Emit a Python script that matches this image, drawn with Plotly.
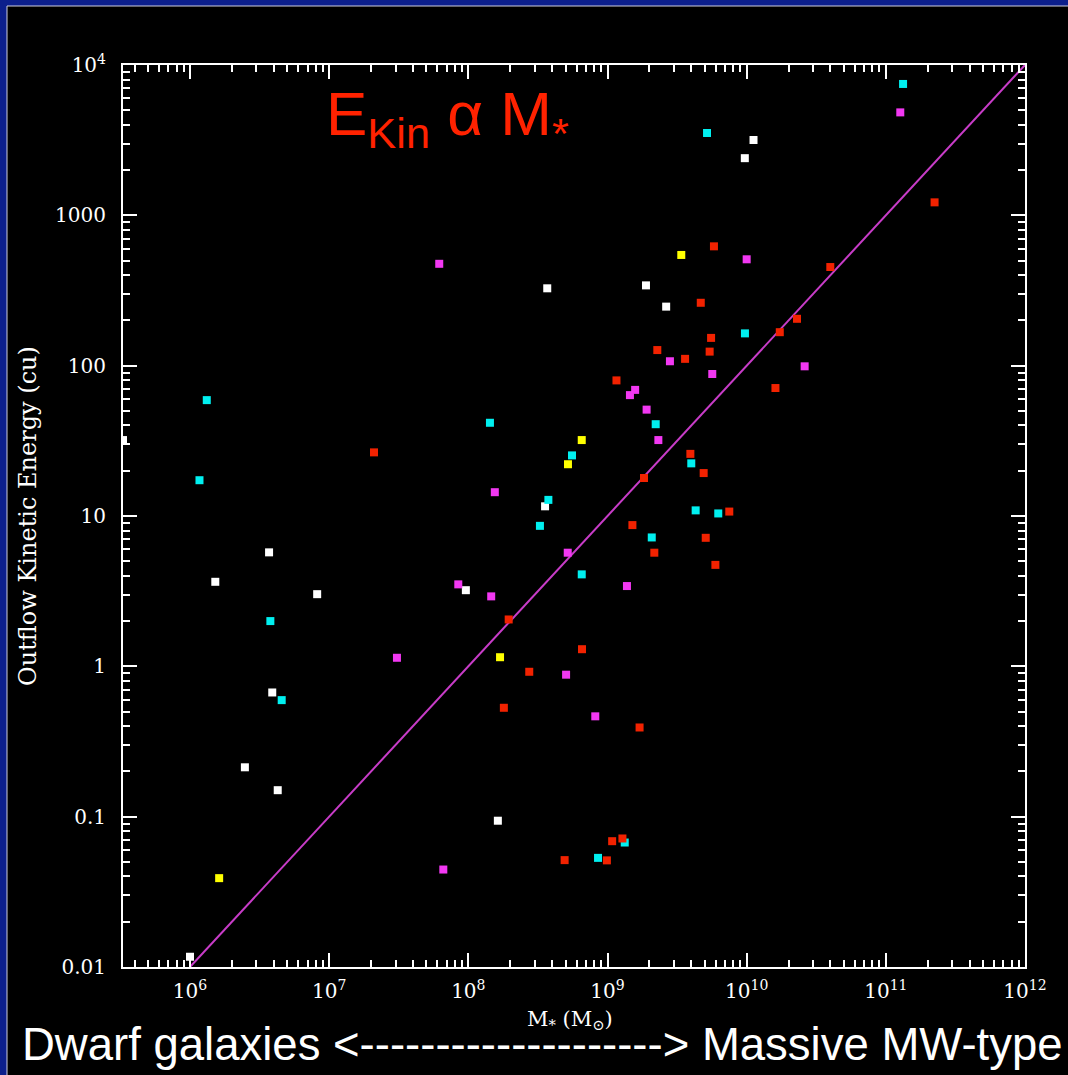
import plotly.graph_objects as go

# ---------------- data (stellar mass [Msun], outflow kinetic energy [cu]) ----------------
white_m = [3.3e5, 3.70e6, 1.52e6, 8.2e6, 9.6e7, 3.9e6, 2.48e6, 4.27e6, 1.0e6,
           3.69e8, 3.56e8, 1.89e9, 2.64e9, 1.12e10, 9.7e9, 1.63e8]
white_e = [32, 5.73, 3.65, 3.02, 3.21, 0.67, 0.213, 0.150, 0.0117,
           327, 11.6, 342, 247, 3170, 2400, 0.094]

cyan_m = [1.32e6, 1.17e6, 3.78e6, 4.56e6, 1.43e8, 5.56e8, 3.76e8, 3.27e8, 2.22e9, 2.08e9,
          4.0e9, 4.30e9, 6.25e9, 6.53e8, 9.72e9, 5.19e9, 1.33e11, 8.55e8, 1.33e9]
cyan_e = [59, 17.3, 2.0, 0.596, 41.7, 25.3, 12.8, 8.6, 40.8, 7.2,
          22.4, 10.9, 10.4, 4.09, 164, 3530, 7480, 0.0532, 0.0673]

yellow_m = [1.62e6, 1.69e8, 6.53e8, 5.2e8, 3.39e9]
yellow_e = [0.039, 1.15, 32, 22.1, 545]

magenta_m = [6.18e7, 1.55e8, 1.45e9, 1.58e9, 1.91e9, 2.32e9, 5.18e8, 1.0e10, 2.81e9, 5.66e9,
             2.61e10, 1.27e11, 3.07e7, 8.47e7, 1.46e8, 5.04e8, 8.17e8, 1.38e9, 6.61e7]
magenta_e = [476, 14.4, 63.7, 69, 51, 32, 5.7, 510, 107, 88,
             99, 4840, 1.14, 3.51, 2.92, 0.88, 0.465, 3.42, 0.0445]

red_m = [2.10e7, 1.16e9, 2.28e9, 1.83e9, 1.51e9, 2.17e9, 5.82e9, 4.68e9, 5.55e9, 5.42e9,
         3.61e9, 3.99e10, 2.30e10, 1.73e10, 1.61e10, 3.94e9, 4.91e9, 7.50e9, 5.08e9, 5.96e9,
         2.24e11, 1.95e8, 6.56e8, 2.74e8, 1.80e8, 1.70e9, 1.08e9, 1.28e9, 4.92e8, 9.9e8]
red_e = [26.5, 79.8, 127, 17.9, 8.7, 5.7, 622, 262, 153, 124,
         111, 453, 205, 167, 71, 25.9, 19.3, 10.7, 7.16, 4.73,
         1220, 2.05, 1.30, 0.92, 0.53, 0.392, 0.0687, 0.0716, 0.0514, 0.0512]

# E_kin proportional to M* relation
rel_m = [1e6, 1e12]
rel_e = [0.01, 1e4]

x_tickvals = [1e6, 1e7, 1e8, 1e9, 1e10, 1e11, 1e12]
x_ticktext = ["10<sup>6</sup>", "10<sup>7</sup>", "10<sup>8</sup>", "10<sup>9</sup>",
              "10<sup>10</sup>", "10<sup>11</sup>", "10<sup>12</sup>"]
y_tickvals = [0.01, 0.1, 1, 10, 100, 1000, 1e4]
y_ticktext = ["0.01", "0.1", "1", "10", "100", "1000", "10<sup>4</sup>"]

# ---------------- figure ----------------
W, H = 1068, 1075
ML, MR, MT, MB = 123, 43, 65, 108
PW, PH = W - ML - MR, H - MT - MB
FRAME_BLUE = "#0c1f8c"


def px_x(p):
    return (p - ML) / PW


def px_y(p):
    return (H - MB - p) / PH


fig = go.Figure()

fig.add_trace(go.Scatter(x=rel_m, y=rel_e, mode="lines",
                         line=dict(color="#c83cc8", width=2), hoverinfo="skip"))

series = [
    (white_m, white_e, "#ffffff"),
    (cyan_m, cyan_e, "#00f0f0"),
    (yellow_m, yellow_e, "#ffff00"),
    (magenta_m, magenta_e, "#f238f2"),
    (red_m, red_e, "#f22200"),
]
for xs, ys, col in series:
    fig.add_trace(go.Scatter(x=xs, y=ys, mode="markers",
                             marker=dict(symbol="square", size=8, color=col,
                                         line=dict(width=0)),
                             cliponaxis=True))

serif = "DejaVu Serif, Liberation Serif, serif"
sans = "Liberation Sans, Arial, Helvetica, sans-serif"

axis_common = dict(
    type="log", showgrid=False, zeroline=False,
    showline=True, linecolor="white", linewidth=2, mirror="allticks",
    ticks="inside", ticklen=14, tickwidth=2, tickcolor="white",
    tickmode="array",
    tickfont=dict(family=serif, size=20, color="white"),
    minor=dict(ticks="inside", ticklen=7, tickwidth=1.5, tickcolor="white",
               dtick="D1", showgrid=False),
)

fig.update_xaxes(range=[5.5186, 12], tickvals=x_tickvals, ticktext=x_ticktext,
                 ticklabelstandoff=5, **axis_common)
fig.update_yaxes(range=[-2, 4], tickvals=y_tickvals, ticktext=y_ticktext,
                 ticklabelstandoff=11, **axis_common)

fig.update_layout(
    width=W, height=H, autosize=False,
    margin=dict(l=ML, r=MR, t=MT, b=MB, pad=0),
    paper_bgcolor=FRAME_BLUE,
    plot_bgcolor="black",
    showlegend=False,
    shapes=[dict(type="rect", xref="paper", yref="paper", layer="below",
                 x0=px_x(7), x1=px_x(1100), y0=px_y(1110), y1=px_y(6),
                 fillcolor="black", line=dict(color="#d0d0e0", width=1))],
    annotations=[
        dict(text="E<sub>Kin</sub> α M<sub>*</sub>", xref="paper", yref="paper",
             x=px_x(324), y=px_y(77), xanchor="left", yanchor="top", showarrow=False,
             font=dict(family=sans, size=62, color="#ff2200")),
        dict(text="Outflow Kinetic Energy (cu)", xref="paper", yref="paper",
             x=px_x(28), y=px_y(516), xanchor="center", yanchor="middle",
             textangle=-90, showarrow=False,
             font=dict(family=serif, size=24, color="white")),
        dict(text="M<sub>*</sub> (M<sub>⊙</sub>)", xref="paper", yref="paper",
             x=px_x(570), y=px_y(1020), xanchor="center", yanchor="middle",
             showarrow=False, font=dict(family=serif, size=21, color="white")),
        dict(text="Dwarf galaxies <--------------------> Massive MW-type",
             xref="paper", yref="paper",
             x=px_x(20), y=px_y(1044), xanchor="left", yanchor="middle",
             showarrow=False, font=dict(family=sans, size=45.5, color="white")),
    ],
)

fig.write_html(
    "out.html",
    config={"displayModeBar": False},
    post_script="document.body.style.margin='0';document.body.style.background='%s';" % FRAME_BLUE,
)
